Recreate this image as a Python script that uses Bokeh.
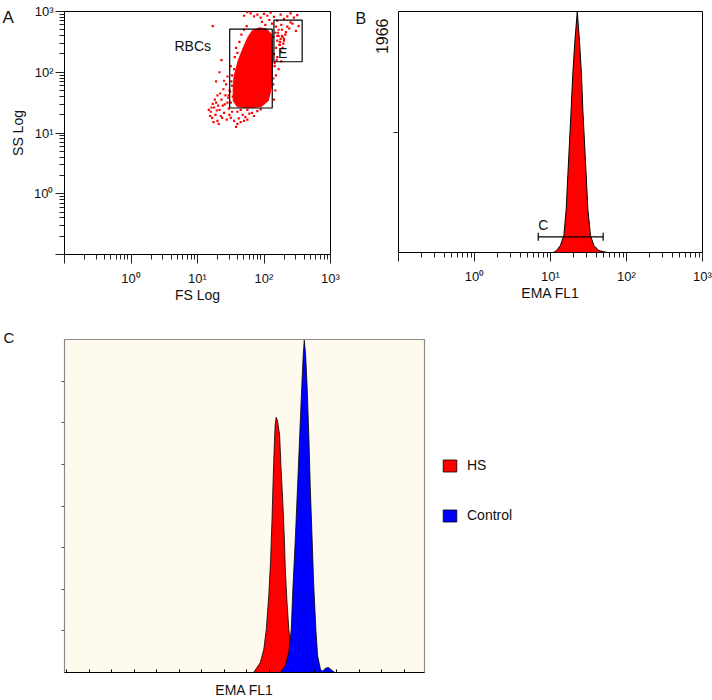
import numpy as np
from bokeh.plotting import figure
from bokeh.models import (FixedTicker, CustomJSTickFormatter, Label, Legend, LegendItem, Title)
from bokeh.layouts import column, row
from bokeh.embed import file_html
from bokeh.resources import INLINE

FONT = "Liberation Sans"

# ---------------- data ----------------
decade_ticks = [0.1, 1, 10, 100, 1000]
decade_labels = ["", "10⁰", "10¹", "10²", "10³"]
minor_log_ticks = [k * 10.0 ** d for d in (-1, 0, 1, 2) for k in range(2, 10)]

# Panel A: dense RBC core (FS, SS)
core_fs = [66.5, 84.7, 108, 128, 133, 133, 128, 116, 90.8, 59.9, 39.5, 34.4, 34.4, 35.6, 40.9, 48.7, 57.8]
core_ss = [481, 539, 519, 430, 226, 106, 53.5, 34.0, 27.1, 26.1, 27.1, 34.0, 53.5, 87.6, 155, 253, 384]

# Panel A: individual events (log10 FS, log10 SS)
dot_fs_exp = [1.20, 1.22, 1.25, 1.27, 1.30, 1.28, 1.33, 1.35, 1.36, 1.38, 1.40, 1.42, 1.44, 1.45, 1.47,
              1.24, 1.31, 1.19, 1.26, 1.34, 1.39, 1.43, 1.48, 1.50, 1.52, 1.21, 1.29, 1.37, 1.41, 1.46,
              1.32, 1.49, 1.30, 1.23, 1.17, 1.45, 1.40, 1.52, 1.55, 1.60, 1.65, 1.70, 1.75, 1.62, 1.58,
              1.23, 1.33, 1.28, 1.36,
              1.50, 1.48, 1.52, 1.50, 1.56, 1.58, 1.63, 1.66, 1.70, 1.74, 1.53, 1.51, 1.55, 1.60, 1.47,
              2.15, 2.16, 2.14, 2.17, 2.15, 2.18, 2.20, 2.19,
              1.60, 1.68, 1.75, 1.82, 1.90, 1.72, 1.85, 1.95, 1.65, 1.78,
              2.22, 2.25, 2.28, 2.24, 2.30, 2.21, 2.27, 2.32, 2.35, 2.26, 2.40, 2.23, 2.29,
              1.80, 1.85, 1.90, 1.95, 2.00, 2.05, 2.10, 2.15, 2.08, 2.12, 2.18, 2.20, 2.25, 2.30,
              2.35, 2.40, 2.45, 2.50, 1.75, 1.70, 1.97, 2.02, 2.22, 2.17, 2.14, 2.20, 2.24, 2.27,
              2.28, 2.30, 2.33, 2.38, 2.43, 2.48, 2.52, 2.25, 2.20, 2.16, 2.22, 2.18, 2.14, 2.26]
dot_ss_exp = [1.35, 1.25, 1.42, 1.30, 1.20, 1.50, 1.38, 1.28, 1.55, 1.45, 1.33, 1.62, 1.22, 1.50, 1.40,
              1.18, 1.45, 1.28, 1.55, 1.65, 1.72, 1.80, 1.30, 1.25, 1.35, 1.42, 1.37, 1.25, 1.47, 1.58,
              1.15, 1.68, 1.62, 1.48, 1.38, 1.93, 1.86, 1.78, 1.20, 1.15, 1.18, 1.20, 1.22, 1.24, 1.10,
              2.76, 2.00, 1.85, 2.20,
              1.50, 1.70, 1.95, 2.10, 2.25, 2.40, 2.50, 2.62, 2.70, 2.76, 1.60, 1.85, 2.05, 2.32, 1.62,
              2.30, 2.10, 1.90, 1.70, 1.55, 2.40, 2.60, 2.20,
              1.35, 1.30, 1.38, 1.33, 1.36, 1.26, 1.28, 1.39, 1.38, 1.32,
              2.60, 2.55, 2.58, 2.50, 2.52, 2.65, 2.70, 2.62, 2.75, 2.78, 2.82, 2.45, 2.47,
              2.97, 2.92, 2.95, 2.90, 2.96, 2.93, 2.98, 2.91, 2.86, 2.80, 2.75, 2.85, 2.95, 2.88,
              2.92, 2.97, 2.90, 2.94, 2.99, 2.93, 2.83, 2.78, 2.70, 2.65, 2.58, 2.52, 2.45, 2.60,
              2.40, 2.55, 2.66, 2.72, 2.80, 2.68, 2.76, 2.35, 2.25, 2.15, 2.05, 1.95, 1.80, 2.18]

# Panel A gates
rbc_gate = dict(left=30.5, right=133, bottom=25.8, top=513)
e_gate = dict(left=141, right=375, bottom=149, top=723)
rbc_label_pos = (4.5, 273)
e_label_pos = (162, 205)

# Panel B: EMA FL1 histogram
b_ema = [10.9, 12.0, 13.5, 15.0, 16.1, 16.9, 17.8, 18.7, 19.6, 20.9, 22.5,
         24.1, 25.6, 26.6, 28.0, 29.5, 31.0, 33.6, 37.2, 43.2, 53, 58]
b_count = [0, 16, 57, 139, 356, 628, 903, 1172, 1444, 1719, 1966,
           1719, 1444, 1172, 903, 628, 356, 139, 57, 16, 3, 0]
b_ymax = 1966
b_gate_x = [6.9, 49.3]
b_gate_y = 128
b_gate_cap = 33
b_gate_label_pos = (6.9, 226)

# Panel C: overlay histograms (channel, count)
hs_channel = [531, 550, 560, 567, 574, 579, 583, 586, 589, 592, 595, 599, 605, 609, 614, 618, 621, 626, 631, 636, 641, 650]
hs_count = [0, 24, 56, 104, 184, 265, 361, 449, 529, 593, 613, 605, 569, 489, 409, 329, 249, 168, 104, 64, 30, 0]
ctrl_channel = [607, 621, 631, 638, 643, 650, 656, 662, 668, 672, 675, 679, 683, 688, 692, 697, 702, 708, 713, 721,
                727, 735, 744, 754, 762]
ctrl_count = [0, 16, 48, 104, 208, 329, 449, 569, 689, 762, 798, 762, 689, 569, 449, 329, 208, 104, 40, 8,
              3, 10, 12, 5, 0]
c_xticks = list(range(0, 1024, 64))
c_yticks = [100, 200, 300, 400, 500, 600, 700]
c_series = ["HS", "Control"]

# ---------------- helpers ----------------
log_fmt = CustomJSTickFormatter(args=dict(decades=decade_ticks, dlabels=decade_labels), code="""
const e = Math.round(Math.log10(tick));
const i = decades.findIndex(t => Math.round(Math.log10(t)) === e);
return i >= 0 ? dlabels[i] : "";
""")
blank_fmt = CustomJSTickFormatter(code="return '';")


def style_log_axis(ax):
    ax.ticker = FixedTicker(ticks=decade_ticks, minor_ticks=minor_log_ticks)
    ax.formatter = log_fmt
    ax.major_tick_out = 9
    ax.major_tick_in = 0
    ax.minor_tick_out = 5
    ax.minor_tick_in = 0
    ax.axis_line_color = None
    ax.major_tick_line_color = "#222222"
    ax.minor_tick_line_color = "#222222"
    ax.major_label_text_font = FONT
    ax.major_label_text_font_size = "13px"
    ax.major_label_text_color = "#111111"
    ax.axis_label_text_font = FONT
    ax.axis_label_text_font_size = "14px"
    ax.axis_label_text_font_style = "normal"
    ax.axis_label_text_color = "#111111"


def common(p):
    p.grid.visible = False
    p.outline_line_color = "black"
    p.outline_line_width = 1
    p.border_fill_color = "white"


def panel_letter(p, letter, offset, standoff, size="17px"):
    p.add_layout(Title(text=letter, align="left", offset=offset, standoff=standoff,
                       vertical_align="bottom", text_font=FONT, text_font_size=size,
                       text_font_style="normal", text_color="#111111"), "above")


# ---------------- Panel A ----------------
pA = figure(frame_width=266, frame_height=243, x_axis_type="log", y_axis_type="log",
            x_range=(0.1, 1000), y_range=(0.1, 1000),
            output_backend="svg", toolbar_location=None,
            min_border_left=64, min_border_right=20, min_border_top=11, min_border_bottom=64)
common(pA)
style_log_axis(pA.xaxis[0])
style_log_axis(pA.yaxis[0])
pA.xaxis[0].axis_label = "FS Log"
pA.yaxis[0].axis_label = "SS Log"
pA.xaxis[0].major_label_standoff = 7
pA.yaxis[0].major_label_standoff = 2
pA.xaxis[0].axis_label_standoff = -2
pA.yaxis[0].axis_label_standoff = 5

pA.patch(core_fs, core_ss, fill_color="#ff0000", line_color="#ff0000", line_width=1)
pA.scatter(np.power(10.0, dot_fs_exp), np.power(10.0, dot_ss_exp), marker="square",
           size=2.2, fill_color="#ff0000", line_color=None)
for g in (rbc_gate, e_gate):
    pA.quad(left=[g["left"]], right=[g["right"]], bottom=[g["bottom"]], top=[g["top"]],
            fill_color=None, line_color="black", line_width=1.2)
pA.add_layout(Label(x=rbc_label_pos[0], y=rbc_label_pos[1], text="RBCs", text_font=FONT,
                    text_font_size="14px", text_baseline="middle", text_color="#111111"))
pA.add_layout(Label(x=e_label_pos[0], y=e_label_pos[1], text="E", text_font=FONT,
                    text_font_size="14px", text_baseline="middle", text_color="#111111"))
panel_letter(pA, "A", -62, -30)

# ---------------- Panel B ----------------
pB = figure(frame_width=304, frame_height=241, x_axis_type="log",
            x_range=(0.1, 1000), y_range=(0, b_ymax),
            output_backend="svg", toolbar_location=None,
            min_border_left=48, min_border_right=10, min_border_top=11, min_border_bottom=66)
common(pB)
style_log_axis(pB.xaxis[0])
pB.xaxis[0].axis_label = "EMA FL1"
pB.xaxis[0].major_label_standoff = 7
pB.xaxis[0].axis_label_standoff = -2
yb = pB.yaxis[0]
yb.ticker = FixedTicker(ticks=[b_ymax / 2])
yb.formatter = blank_fmt
yb.major_label_text_font_size = "0px"
yb.major_label_standoff = 0
yb.major_tick_out = 5
yb.major_tick_in = 0
yb.minor_tick_out = 0
yb.axis_line_color = None
yb.major_tick_line_color = "#222222"

pB.patch(b_ema, b_count, fill_color="#ff0000", line_color="black", line_width=1)
pB.segment(x0=[b_gate_x[0]], x1=[b_gate_x[1]], y0=[b_gate_y], y1=[b_gate_y], line_color="black", line_width=1.2)
pB.segment(x0=b_gate_x, x1=b_gate_x, y0=[b_gate_y - b_gate_cap] * 2, y1=[b_gate_y + b_gate_cap] * 2,
           line_color="black", line_width=1.2)
pB.add_layout(Label(x=b_gate_label_pos[0], y=b_gate_label_pos[1], text="C", text_font=FONT,
                    text_font_size="14px", text_baseline="alphabetic", text_color="#111111"))
pB.add_layout(Title(text=str(b_ymax), align="right", offset=7, standoff=12, vertical_align="bottom",
                    text_font=FONT, text_font_size="16px", text_font_style="normal",
                    text_color="#111111"), "left")
panel_letter(pB, "B", -43, -30, size="16px")

# ---------------- Panel C ----------------
pC = figure(frame_width=360, frame_height=333, x_range=(-7, 1017), y_range=(0, 800),
            output_backend="svg", toolbar_location=None,
            min_border_left=64, min_border_right=0, min_border_top=21, min_border_bottom=28)
pC.grid.visible = False
pC.background_fill_color = "#fefaee"
pC.border_fill_color = "white"
pC.outline_line_color = "#8c8c8c"
pC.outline_line_width = 1.2

xc = pC.xaxis[0]
xc.ticker = FixedTicker(ticks=c_xticks)
xc.formatter = blank_fmt
xc.major_label_text_font_size = "0px"
xc.major_label_standoff = 0
xc.major_tick_in = 3
xc.major_tick_out = 0
xc.minor_tick_out = 0
xc.axis_line_color = "black"
xc.axis_line_width = 1.2
xc.major_tick_line_color = "black"
xc.axis_label = "EMA FL1"
xc.axis_label_text_font = FONT
xc.axis_label_text_font_size = "14px"
xc.axis_label_text_font_style = "normal"
xc.axis_label_text_color = "#111111"
xc.axis_label_standoff = 9

yc = pC.yaxis[0]
yc.ticker = FixedTicker(ticks=c_yticks)
yc.formatter = blank_fmt
yc.major_label_text_font_size = "0px"
yc.major_tick_out = 3
yc.major_tick_in = 0
yc.minor_tick_out = 0
yc.axis_line_color = None
yc.major_tick_line_color = "#555555"

r_hs = pC.patch(hs_channel, hs_count, fill_color="#ff0000", line_color="black", line_width=0.8)
r_ctrl = pC.patch(ctrl_channel, ctrl_count, fill_color="#0000ff", line_color="black", line_width=0.8)

legend = Legend(items=[LegendItem(label=c_series[0], renderers=[r_hs]),
                       LegendItem(label=c_series[1], renderers=[r_ctrl])],
                location="top_left", orientation="vertical",
                title=" ", title_text_font_size="10px", title_standoff=90,
                glyph_width=17, glyph_height=15, label_height=15, spacing=34,
                padding=0, margin=17, border_line_color=None, background_fill_alpha=0,
                label_standoff=9, label_text_font=FONT, label_text_font_size="14px",
                label_text_color="#111111")
pC.add_layout(legend, "right")
panel_letter(pC, "C", -61, -12, size="15px")

layout = column(row(pA, pB), pC)
open("out.html", "w").write(file_html(layout, INLINE))
